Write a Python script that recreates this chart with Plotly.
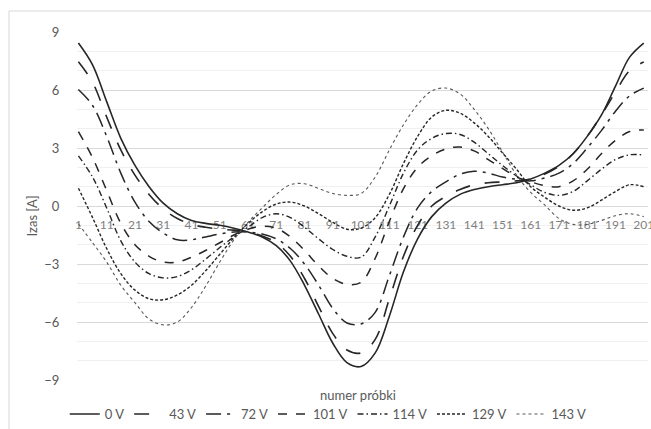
import plotly.graph_objects as go

# ---- data (every 5th sample) ----
samples = [1, 6, 11, 16, 21, 26, 31, 36, 41, 46, 51, 56, 61, 66, 71, 76, 81, 86, 91, 96,
           101, 106, 111, 116, 121, 126, 131, 136, 141, 146, 151, 156, 161, 166, 171, 176,
           181, 186, 191, 196, 201]

series_names = ["0 V", "43 V", "72 V", "101 V", "114 V", "129 V", "143 V"]

v_0 = [8.43, 7.3, 5.4, 3.5, 2.1, 1.0, 0.15, -0.4, -0.75, -0.9, -1.0, -1.15, -1.35, -1.6, -2.05,
       -2.85, -4.1, -5.6, -7.1, -8.1, -8.3, -7.6, -5.7, -3.4, -1.7, -0.55, 0.15, 0.6, 0.85, 1.0,
       1.1, 1.2, 1.4, 1.7, 2.1, 2.7, 3.6, 4.7, 6.2, 7.7, 8.43]
v_43 = [7.46, 6.4, 4.6, 2.9, 1.6, 0.6, -0.15, -0.65, -0.95, -1.1, -1.2, -1.25, -1.35, -1.55,
        -1.9, -2.6, -3.75, -5.2, -6.6, -7.45, -7.6, -6.9, -4.8, -2.6, -1.0, 0.0, 0.5, 0.85, 1.1,
        1.2, 1.25, 1.3, 1.4, 1.65, 2.05, 2.7, 3.6, 4.7, 5.9, 7.0, 7.45]
v_72 = [6.03, 5.2, 3.6, 1.7, 0.2, -0.8, -1.4, -1.75, -1.75, -1.6, -1.45, -1.35, -1.35, -1.45,
        -1.7, -2.2, -3.0, -4.1, -5.3, -6.05, -6.1, -5.5, -3.6, -1.6, -0.1, 0.75, 1.25, 1.65, 1.8,
        1.7, 1.5, 1.38, 1.3, 1.45, 1.7, 2.2, 3.0, 3.9, 4.9, 5.7, 6.1]
v_101 = [3.85, 2.5, 0.8, -0.9, -2.0, -2.6, -2.9, -2.9, -2.65, -2.3, -1.9, -1.5, -1.2, -1.05,
         -1.15, -1.6, -2.3, -3.1, -3.75, -4.05, -3.95, -2.7, -0.8, 0.9, 2.0, 2.6, 2.95, 3.05,
         2.85, 2.4, 1.95, 1.5, 1.25, 1.05, 1.0, 1.3, 1.9, 2.7, 3.4, 3.85, 3.93]
v_114 = [2.59, 1.5, -0.1, -1.8, -2.9, -3.5, -3.72, -3.65, -3.3, -2.75, -2.15, -1.6, -1.1, -0.6,
         -0.4, -0.6, -1.1, -1.7, -2.25, -2.6, -2.65, -1.6, 0.0, 1.7, 2.9, 3.5, 3.75, 3.7, 3.3,
         2.7, 2.1, 1.55, 1.1, 0.7, 0.55, 0.75, 1.3, 1.9, 2.4, 2.65, 2.64]
v_129 = [0.92, -0.6, -2.2, -3.5, -4.35, -4.8, -4.85, -4.6, -4.1, -3.35, -2.5, -1.65, -0.9, -0.3,
         0.1, 0.2, 0.0, -0.4, -0.85, -1.2, -1.15, -0.6, 0.6, 2.2, 3.6, 4.6, 4.95, 4.8, 4.3, 3.6,
         2.75, 1.9, 1.0, 0.45, 0.0, -0.22, -0.1, 0.3, 0.75, 1.1, 1.0]
v_143 = [-0.92, -1.9, -2.9, -4.1, -5.0, -5.85, -6.15, -6.0, -5.25, -4.15, -2.9, -1.75, -0.85,
         -0.1, 0.6, 1.1, 1.15, 0.9, 0.65, 0.55, 0.65, 1.5, 2.9, 4.2, 5.25, 5.95, 6.1, 5.8, 5.0,
         4.0, 2.8, 1.6, 0.7, 0.05, -0.65, -0.95, -0.95, -0.75, -0.5, -0.4, -0.55]

x_tick_values = [1, 11, 21, 31, 41, 51, 61, 71, 81, 91, 101, 111, 121, 131, 141, 151, 161,
                 171, 181, 191, 201]
x_tick_labels = ["1", "11", "21", "31", "41", "51", "61", "71", "81", "91", "101", "111",
                 "121", "131", "141", "151", "161", "171", "181", "191", "201"]

all_values = [v_0, v_43, v_72, v_101, v_114, v_129, v_143]

# ---- styles ----
styles = [
    dict(dash="solid", color="#262626", width=1.6),
    dict(dash="longdash", color="#262626", width=1.6),
    dict(dash="longdashdot", color="#262626", width=1.5),
    dict(dash="dash", color="#262626", width=1.5),
    dict(dash="6px,3px,1.5px,3px", color="#262626", width=1.4),
    dict(dash="3px,2px", color="#262626", width=1.4),
    dict(dash="dot", color="#595959", width=1.1),
]

FONT = "Lato, 'Open Sans', sans-serif"
GREY = "#595959"

fig = go.Figure()
for name, vals, st in zip(series_names, all_values, styles):
    fig.add_trace(go.Scatter(
        x=samples, y=vals, name=name, mode="lines",
        line=dict(color=st["color"], width=st["width"], dash=st["dash"], shape="spline", smoothing=1.0),
        hoverinfo="skip",
    ))

fig.update_layout(
    width=651, height=429,
    margin=dict(l=77, r=3, t=32, b=49, autoexpand=False),
    plot_bgcolor="white", paper_bgcolor="white",
    font=dict(family=FONT, color=GREY, size=12),
    showlegend=True,
    legend=dict(orientation="h", x=0.44, xanchor="center", yref="container", y=0.0, yanchor="bottom",
                font=dict(family=FONT, size=13, color=GREY), itemwidth=30,
                bgcolor="rgba(0,0,0,0)", tracegroupgap=0),
    xaxis=dict(
        range=[0.5, 202.5], tickmode="array", tickvals=x_tick_values, ticktext=x_tick_labels,
        anchor="free", position=0.5, showgrid=False, zeroline=False, showline=False,
        ticks="outside", ticklen=8, tickcolor="rgba(0,0,0,0)", ticklabeloverflow="allow",
        tickfont=dict(family=FONT, size=12, color="#7f7f7f"), tickangle=0, layer="below traces",
    ),
    yaxis=dict(
        range=[-9, 9], dtick=3, tick0=0, showgrid=True, gridcolor="#d9d9d9", gridwidth=1,
        minor=dict(dtick=1, showgrid=True, gridcolor="#f0f0f0", gridwidth=1),
        zeroline=False, showline=False, ticks="outside", ticklen=14,
        tickcolor="rgba(0,0,0,0)", tickfont=dict(family=FONT, size=13, color=GREY),
    ),
    annotations=[
        dict(text="Izas [A]", xref="paper", yref="paper", x=-0.0788, y=0.47,
             textangle=-90, showarrow=False, font=dict(family=FONT, size=13, color=GREY),
             xanchor="center", yanchor="middle"),
        dict(text="numer próbki", xref="paper", yref="paper", x=0.492, y=-0.043,
             showarrow=False, font=dict(family=FONT, size=13, color=GREY),
             xanchor="center", yanchor="middle"),
    ],
    shapes=[
        dict(type="line", xref="paper", yref="paper", x0=-0.1191, x1=-0.1191, y0=1.0603, y1=-0.2,
             line=dict(color="#d9d9d9", width=1)),
        dict(type="line", xref="paper", yref="paper", x0=-0.1191, x1=1.01, y0=1.0603, y1=1.0603,
             line=dict(color="#d9d9d9", width=1)),
    ],
)

fig.write_html("out.html")
